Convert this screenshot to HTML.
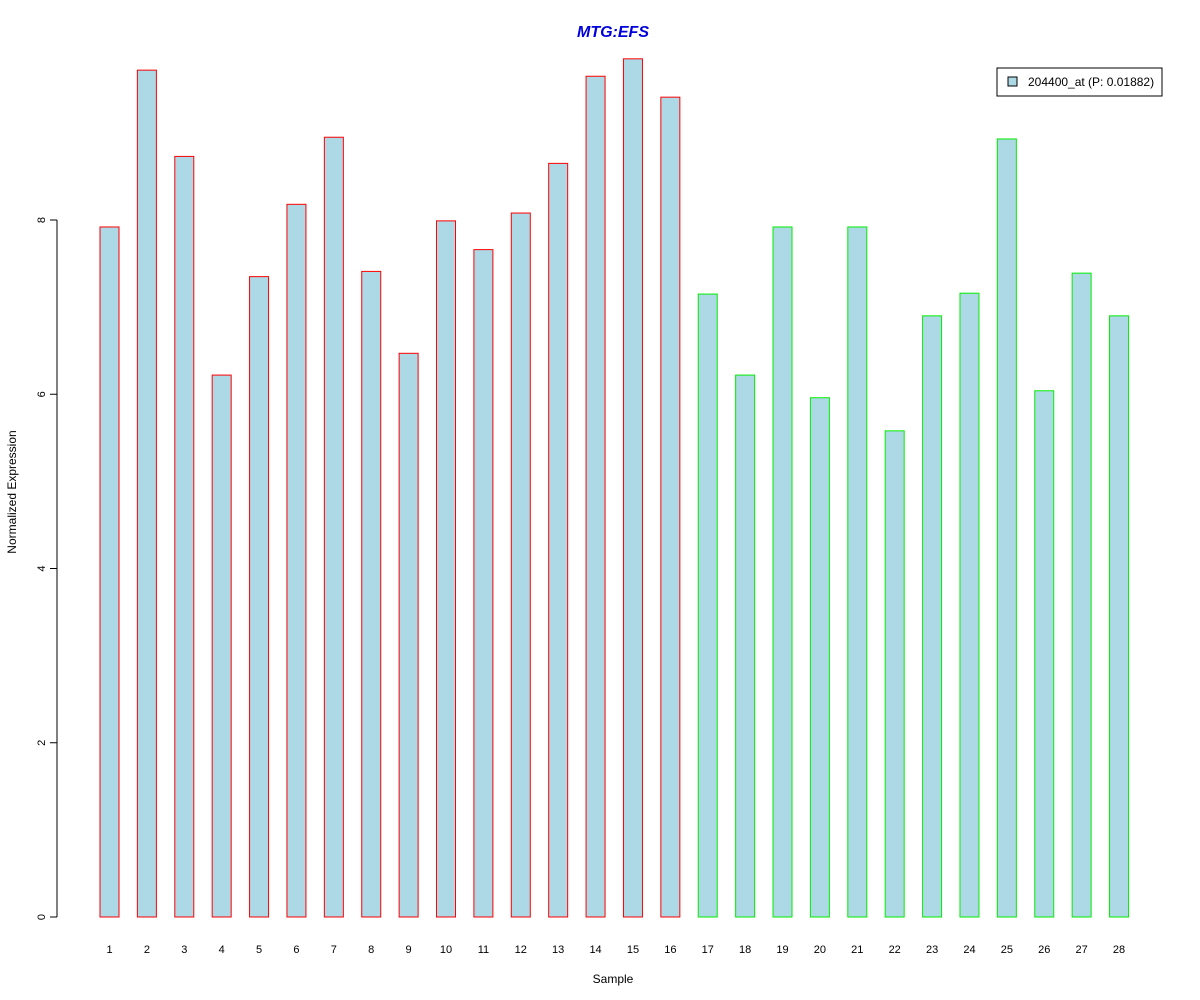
<!DOCTYPE html>
<html><head><meta charset="utf-8"><style>
body{margin:0;background:#fff;}
svg{display:block;font-family:"Liberation Sans",Arial,sans-serif;}
</style></head><body>
<svg id="chart" width="1200" height="1000">
<text x="613" y="37" text-anchor="middle" font-size="16" font-weight="bold" font-style="italic" fill="#0000dd">MTG:EFS</text>
<text x="613" y="983" text-anchor="middle" font-size="12">Sample</text>
<text transform="translate(16,492) rotate(-90)" text-anchor="middle" font-size="12">Normalized Expression</text>
<g id="yaxis"></g>
<g id="bars"></g>
<g id="xlabels"></g>
<g>
<rect x="997" y="68" width="165" height="28" fill="#fff" stroke="#000"/>
<rect x="1008" y="77" width="9" height="9" fill="#add8e6" stroke="#000"/>
<text x="1028" y="86" font-size="12">204400_at (P: 0.01882)</text>
</g>
</svg>
<script>
const categories=["1","2","3","4","5","6","7","8","9","10","11","12","13","14","15","16","17","18","19","20","21","22","23","24","25","26","27","28"];
const values=[7.92,9.72,8.73,6.22,7.35,8.18,8.95,7.41,6.47,7.99,7.66,8.08,8.65,9.65,9.85,9.41,7.15,6.22,7.92,5.96,7.92,5.58,6.90,7.16,8.93,6.04,7.39,6.90];
const groups=["a","a","a","a","a","a","a","a","a","a","a","a","a","a","a","a","b","b","b","b","b","b","b","b","b","b","b","b"];
const yTicks=[0,2,4,6,8];
const NS="http://www.w3.org/2000/svg";
const y0=917,unit=87.125;
function yScale(v){return y0-v*unit;}
function xScale(i){return 109.5+i*37.39;}
const ya=document.getElementById('yaxis');
function mk(t,a,p){const e=document.createElementNS(NS,t);for(const k in a)e.setAttribute(k,a[k]);p.appendChild(e);return e;}
const axl=mk('line',{x1:57,x2:57,y1:yScale(yTicks[0]),y2:yScale(yTicks[yTicks.length-1]),stroke:'#000'},ya);


yTicks.forEach(t=>{
  const l=mk('line',{x1:50,x2:57,y1:yScale(t),y2:yScale(t),stroke:'#000'},ya);
  
  
  const tx=mk('text',{transform:`translate(45,${yScale(t)}) rotate(-90)`,'text-anchor':'middle','font-size':11},ya);
  tx.textContent=t;
  
  
});
const bg=document.getElementById('bars'),xl=document.getElementById('xlabels');
values.forEach((v,i)=>{
  const r=mk('rect',{x:xScale(i)-9.5,y:yScale(v),width:19,height:y0-yScale(v),fill:'#add8e6',stroke:groups[i]==='a'?'#ff0000':'#00ee00'},bg);
  
  
  const t=mk('text',{x:xScale(i),y:953,'text-anchor':'middle','font-size':11},xl);
  t.textContent=categories[i];
  
  
});
</script>
</body></html>
